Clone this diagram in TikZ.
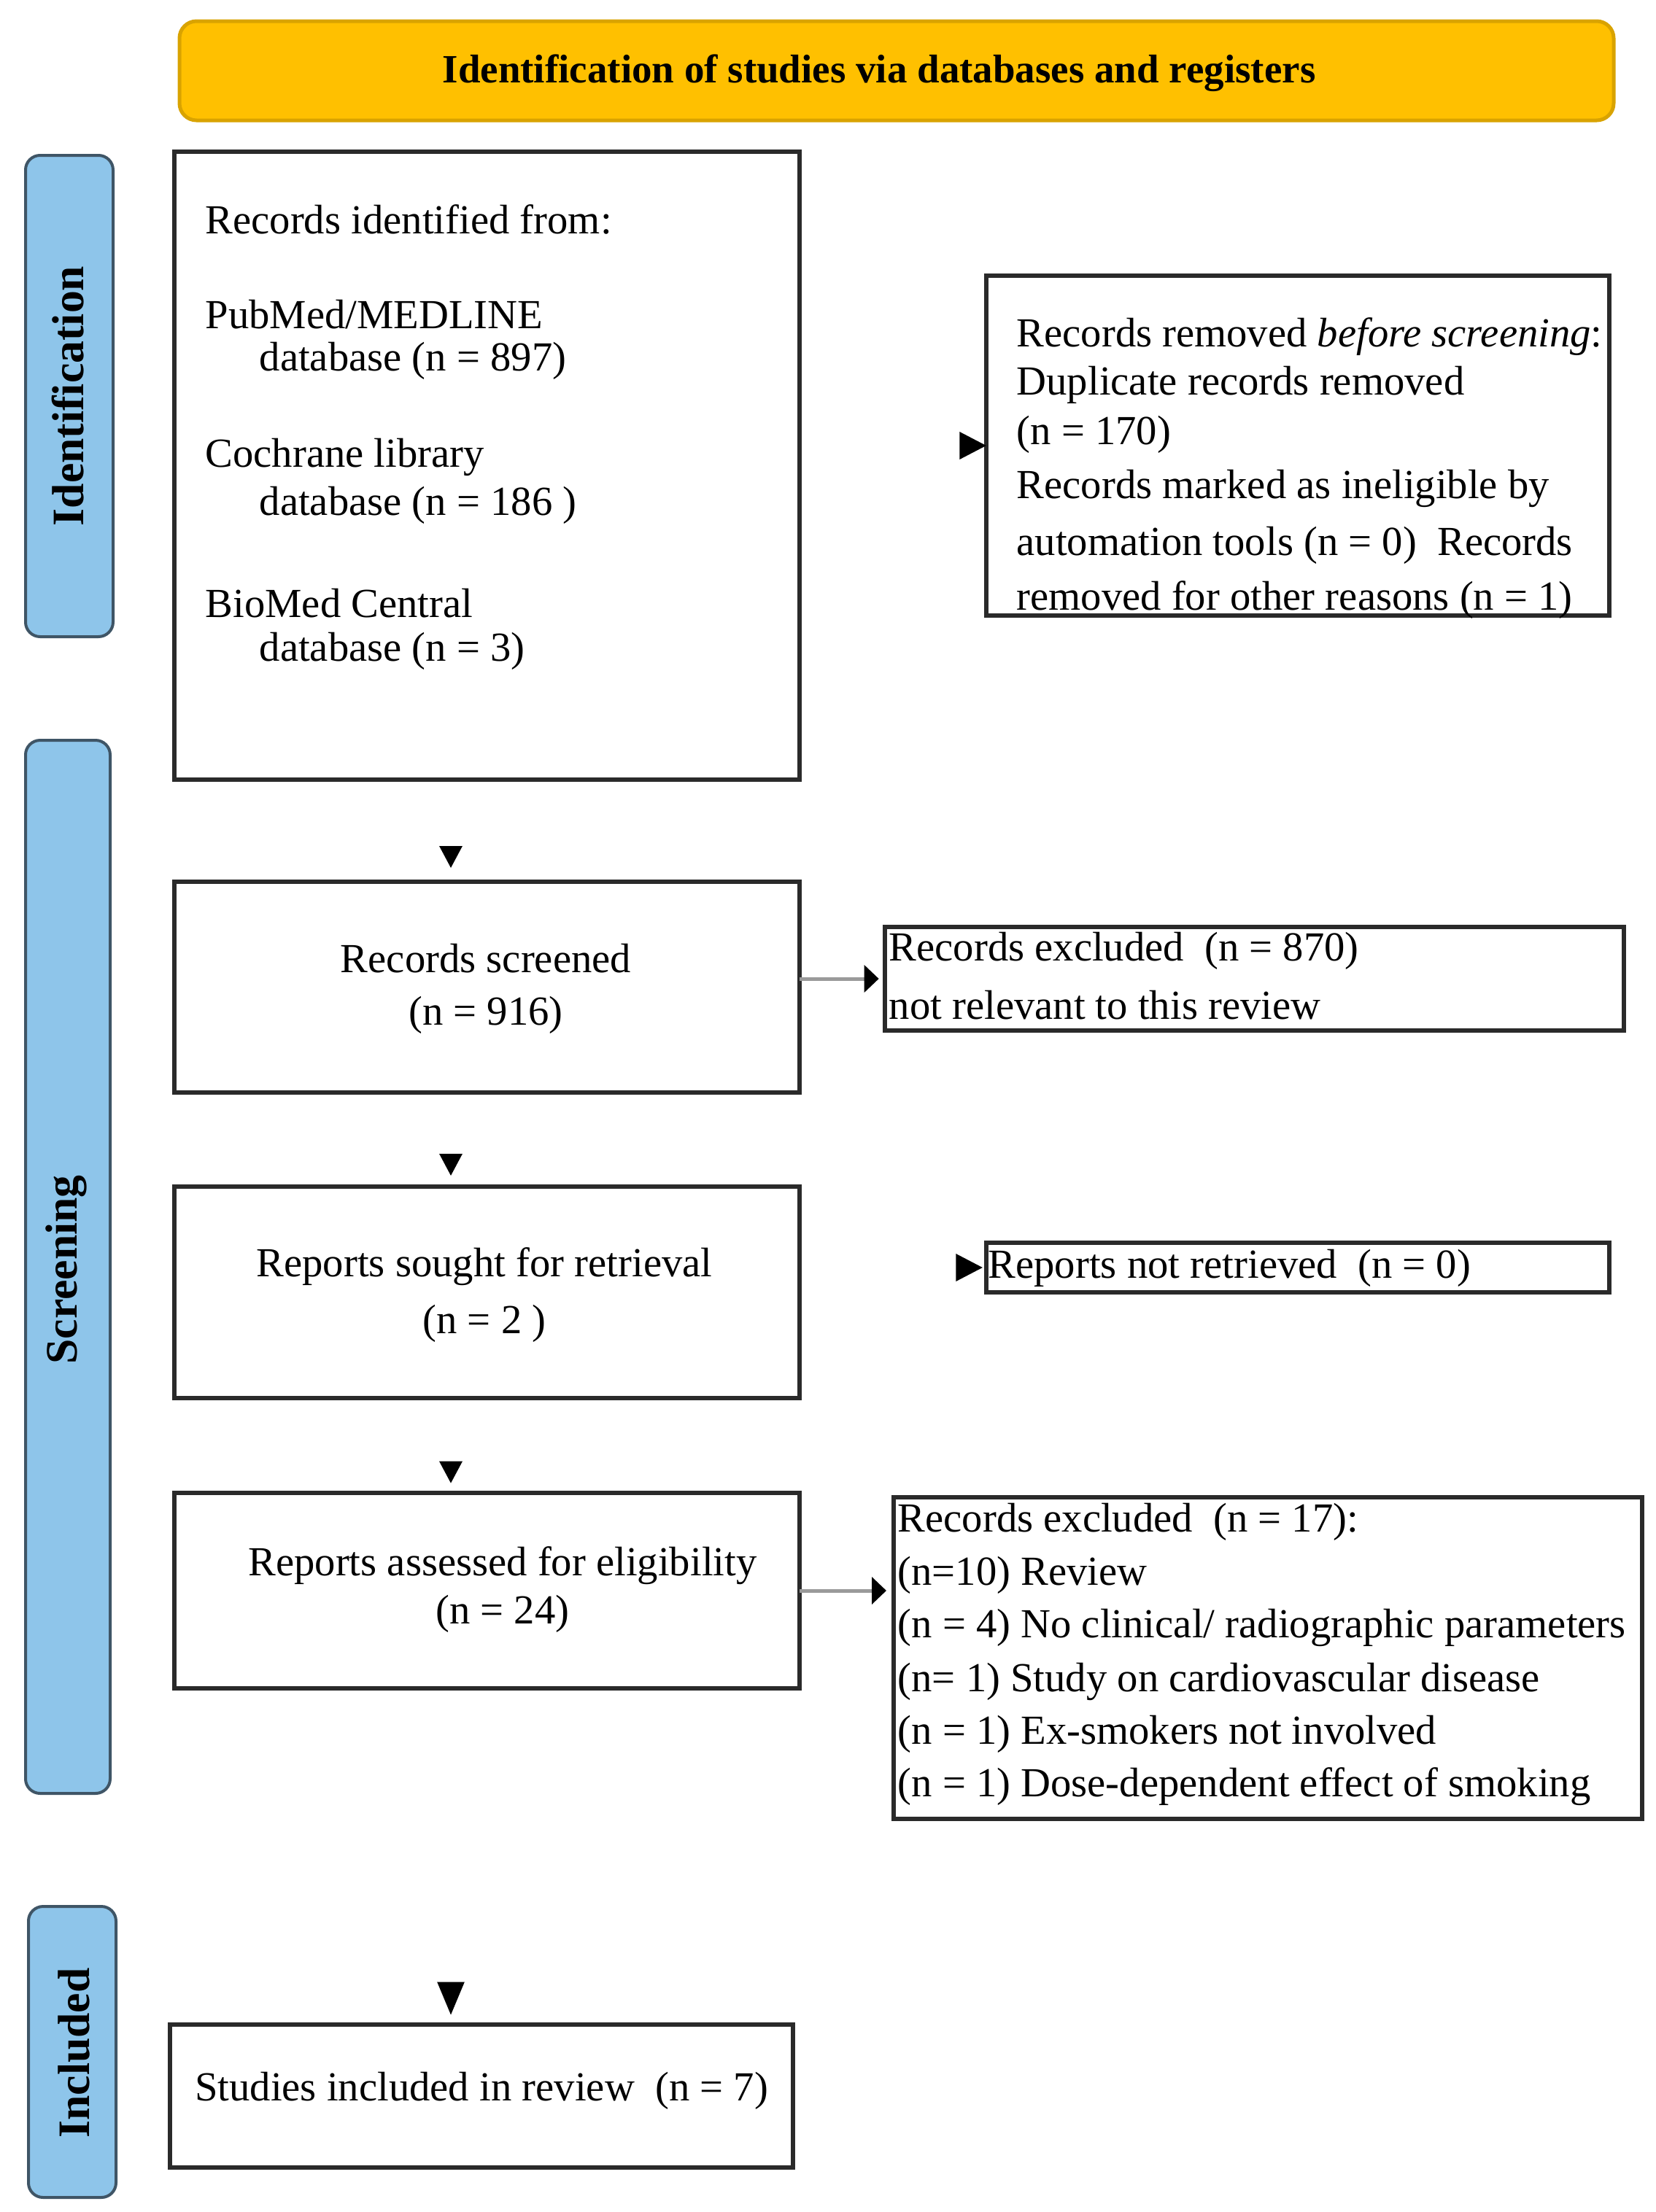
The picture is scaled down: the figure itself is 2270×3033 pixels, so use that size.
\documentclass[tikz,border=0pt]{standalone}
\usepackage{fontspec}
\setmainfont{Liberation Serif}
\usetikzlibrary{arrows.meta}
\definecolor{hdrfill}{HTML}{FFC000}
\definecolor{hdrdraw}{HTML}{D9A300}
\definecolor{barfill}{HTML}{8EC5EA}
\definecolor{bardraw}{HTML}{3F5566}
\definecolor{boxdraw}{HTML}{2A2A2A}
\definecolor{lgray}{HTML}{9A9A9A}
\begin{document}
\begin{tikzpicture}[x=0.3pt,y=-0.3pt,
 box/.style={draw=boxdraw,line width=1.8pt,fill=white,rectangle,inner sep=0pt,outer sep=0pt},
 bar/.style={draw=bardraw,line width=1.2pt,fill=barfill,rounded corners=6pt,inner sep=0pt,outer sep=0pt},
 hdr/.style={draw=hdrdraw,line width=1.5pt,fill=hdrfill,rounded corners=7pt,inner sep=0pt,outer sep=0pt},
 txt/.style={font=\fontsize{17}{21}\selectfont,inner sep=0pt,anchor=west},
 ctxt/.style={font=\fontsize{17}{21.6}\selectfont,inner sep=0pt,align=center},
 lab/.style={font=\fontsize{18.5}{20}\selectfont\bfseries,rotate=90,inner sep=0pt},
 ghost/.style={draw=white,line width=1.5pt,shorten <=2pt,-{Triangle[black,length=11pt,width=11pt]}},
 grayarr/.style={draw=lgray,line width=1.5pt,-{Triangle[black,length=6pt,width=11pt]}},
 down/.style={draw=white,line width=1pt,shorten <=2pt,-{Triangle[black,length=9pt,width=9.3pt]}},
 bigdown/.style={draw=white,line width=1pt,shorten <=2pt,-{Triangle[black,length=13.5pt,width=11pt]}},
]
\useasboundingbox[fill=white] (0,0) rectangle (2270,3033);

% header and side bars
\node[hdr,minimum width=589.8pt,minimum height=40.8pt] (hdr) at (1229,97) {};
\node[font=\fontsize{16.5}{20}\selectfont\bfseries,inner sep=0pt] (hdrtxt) at (1205,100) {Identification of studies via databases and registers};

\node[bar,minimum width=36pt,minimum height=198pt] (bar1) at (95,543) {};
\node[bar,minimum width=34.8pt,minimum height=433.2pt] (bar2) at (93,1737) {};
\node[bar,minimum width=36pt,minimum height=119.7pt] (bar3) at (99,2813.5) {};
\node[lab] (lab1) at (93,543) {Identification};
\node[lab] (lab2) at (91,1741) {Screening};
\node[lab] (lab3) at (101,2815) {Included};

% boxes
\node[box,minimum width=257.1pt,minimum height=258.3pt] (id) at (667.5,638.5) {};
\node[box,minimum width=256.2pt,minimum height=139.8pt] (rm) at (1779,611) {};
\node[box,minimum width=257.1pt,minimum height=86.7pt] (sc) at (667.5,1353.5) {};
\node[box,minimum width=303.9pt,minimum height=42.6pt] (ex1) at (1719.5,1342) {};
\node[box,minimum width=257.1pt,minimum height=87pt] (so) at (667.5,1772) {};
\node[box,minimum width=256.2pt,minimum height=20.4pt] (nr) at (1779,1738) {};
\node[box,minimum width=257.1pt,minimum height=80.4pt] (as) at (667.5,2181) {};
\node[box,minimum width=307.8pt,minimum height=132.3pt] (ex2) at (1738,2273.5) {};
\node[box,minimum width=256.2pt,minimum height=58.8pt] (inc) at (660,2874) {};

% texts: identification box
\node[txt] (t1) at (281,301) {Records identified from:};
\node[txt] (t2) at (281,431) {PubMed/MEDLINE};
\node[txt] (t3) at (355,495) {database (n = 897)};
\node[txt] (t4) at (281,627) {Cochrane library};
\node[txt] (t5) at (355,693) {database (n = 186 )};
\node[txt] (t6) at (281,827) {BioMed Central};
\node[txt] (t7) at (355,893) {database (n = 3)};

% removed box
\node[txt] (r1) at (1393,462) {Records removed \textit{before screening}:};
\node[txt] (r2) at (1393,528) {Duplicate records removed};
\node[txt] (r3) at (1393,596) {(n = 170)};
\node[txt] (r4) at (1393,670) {Records marked as ineligible by};
\node[txt] (r5) at (1393,748) {automation tools (n = 0)\enspace Records};
\node[txt] (r6) at (1393,823) {removed for other reasons (n = 1)};

% screening
\node[ctxt] (sct) at (666,1356) {Records screened\\(n = 916)};
\node[txt] (e1) at (1218,1304) {Records excluded\enspace (n = 870)};
\node[txt] (e2) at (1218,1378) {not relevant to this review};
\node[ctxt,font=\fontsize{17}{23.4}\selectfont] (sot) at (664,1776) {Reports sought for retrieval\\(n = 2 )};
\node[txt] (nrt) at (1354,1739) {Reports not retrieved\enspace (n = 0)};
\node[ctxt,font=\fontsize{17}{19.8}\selectfont] (ast) at (689,2180) {Reports assessed for eligibility\\(n = 24)};
\node[txt] (x1) at (1230,2087) {Records excluded\enspace (n = 17):};
\node[txt] (x2) at (1230,2160) {(n=10) Review};
\node[txt] (x3) at (1230,2232) {(n = 4) No clinical/ radiographic parameters};
\node[txt] (x4) at (1230,2306) {(n= 1) Study on cardiovascular disease};
\node[txt] (x5) at (1230,2378) {(n = 1) Ex-smokers not involved};
\node[txt] (x6) at (1230,2450) {(n = 1) Dose-dependent effect of smoking};

% included
\node[ctxt] (inct) at (660,2867) {Studies included in review\enspace (n = 7)};

% connectors
\coordinate (ax) at (618,0);
\draw[ghost] (id.east |- rm.west) -- (rm.west);
\draw[down,shorten >=5.7pt] (id.south -| ax) -- (sc.north -| ax);
\draw[grayarr,shorten >=2.5pt] (sc.east |- ex1.west) -- (ex1.west);
\draw[down,shorten >=4.5pt] (sc.south -| ax) -- (so.north -| ax);
\draw[ghost,shorten >=1.5pt] (so.east |- nr.west) -- (nr.west);
\draw[down,shorten >=4pt] (so.south -| ax) -- (as.north -| ax);
\draw[grayarr,shorten >=3pt] (as.east) -- (as.east -| ex2.west);
\draw[bigdown,shorten >=4pt] (as.south -| ax) -- (inc.north -| ax);
\end{tikzpicture}
\end{document}
